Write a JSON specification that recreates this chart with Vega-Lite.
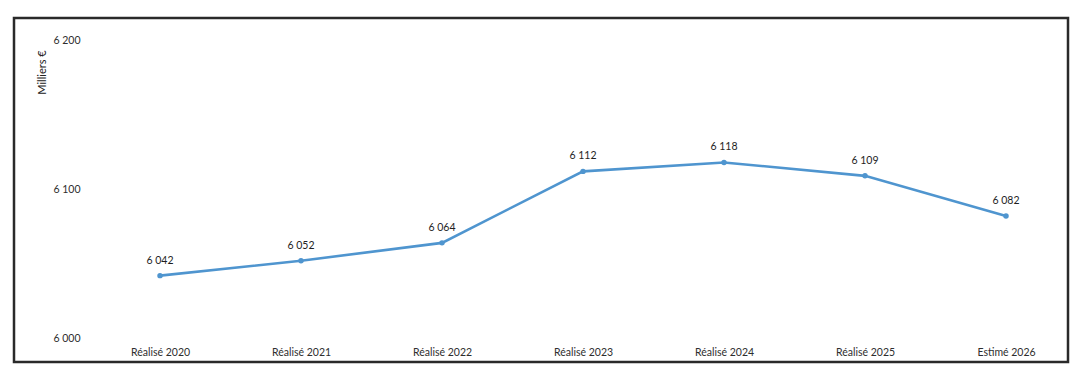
{
  "$schema": "https://vega.github.io/schema/vega-lite/v6.json",
  "width": 1054,
  "height": 344,
  "autosize": {"type": "none"},
  "padding": {"left": 14, "top": 18, "right": 9, "bottom": 3},
  "background": "white",
  "config": {
    "locale": {"number": {"decimal": ",", "thousands": " ", "grouping": [3], "currency": ["", " €"]}},
    "view": {"stroke": "#2a2a2a", "strokeWidth": 2.5},
    "font": "Lato"
  },
  "data": {
    "values": [
      {"periode": "Réalisé 2020", "valeur": 6042},
      {"periode": "Réalisé 2021", "valeur": 6052},
      {"periode": "Réalisé 2022", "valeur": 6064},
      {"periode": "Réalisé 2023", "valeur": 6112},
      {"periode": "Réalisé 2024", "valeur": 6118},
      {"periode": "Réalisé 2025", "valeur": 6109},
      {"periode": "Estimé 2026", "valeur": 6082}
    ]
  },
  "encoding": {
    "x": {
      "field": "periode",
      "type": "nominal",
      "sort": null,
      "scale": {"type": "point", "padding": 0.7376, "align": 0.702},
      "axis": {
        "title": null,
        "orient": "bottom",
        "offset": -18,
        "domain": false,
        "ticks": false,
        "labelPadding": 3,
        "labelAngle": 0,
        "labelFont": "Lato",
        "labelFontSize": 10.5,
        "labelColor": "#2e2e2e"
      }
    },
    "y": {
      "field": "valeur",
      "type": "quantitative",
      "scale": {"domain": [5984, 6215], "nice": false, "zero": false},
      "axis": {
        "values": [6000, 6100, 6200],
        "format": ",d",
        "offset": -71,
        "domain": false,
        "ticks": false,
        "grid": false,
        "labelPadding": 5,
        "labelFont": "Lato",
        "labelFontSize": 10.5,
        "labelColor": "#2e2e2e",
        "title": "Milliers €",
        "titleFont": "Lato",
        "titleFontSize": 11,
        "titleFontWeight": "normal",
        "titleColor": "#222222",
        "titleAngle": -90,
        "titleX": -43,
        "titleY": 54,
        "titleAlign": "center",
        "titleBaseline": "middle"
      }
    }
  },
  "layer": [
    {
      "mark": {"type": "line", "color": "#4f95cf", "strokeWidth": 2.6, "point": {"filled": true, "size": 30, "color": "#4f95cf"}}
    },
    {
      "mark": {"type": "text", "dy": -15, "font": "Lato", "fontSize": 10.5, "color": "#1e1e1e"},
      "encoding": {"text": {"field": "valeur", "type": "quantitative", "format": ",d"}}
    }
  ]
}
